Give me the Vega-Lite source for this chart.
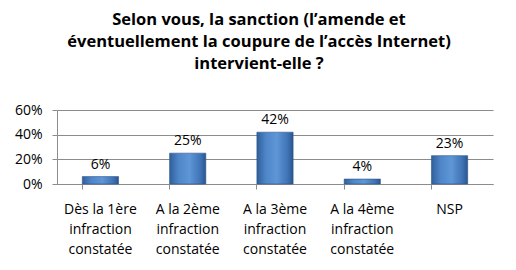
{
  "$schema": "https://vega.github.io/schema/vega-lite/v6.json",
  "autosize": {"type": "none"},
  "padding": {"left": 57, "top": 110, "right": 23, "bottom": 86},
  "width": 436,
  "height": 74,
  "background": "white",
  "title": {
    "text": ["Selon vous, la sanction (l’amende et", "éventuellement la coupure de l’accès Internet)", "intervient-elle ?"],
    "font": "Open Sans",
    "fontSize": 16.5,
    "fontWeight": "bold",
    "color": "#000000",
    "lineHeight": 22,
    "anchor": "middle",
    "dx": -16,
    "offset": 31
  },
  "data": {
    "values": [
      {"categorie": "Dès la 1ère infraction constatée", "part": 0.06},
      {"categorie": "A la 2ème infraction constatée", "part": 0.25},
      {"categorie": "A la 3ème infraction constatée", "part": 0.42},
      {"categorie": "A la 4ème infraction constatée", "part": 0.04},
      {"categorie": "NSP", "part": 0.23}
    ]
  },
  "encoding": {
    "x": {
      "field": "categorie",
      "type": "nominal",
      "sort": null,
      "scale": {"paddingInner": 0.585, "paddingOuter": 0.29},
      "axis": {
        "title": null,
        "labelAngle": 0,
        "labelExpr": "split(replace(datum.label, ' infraction ', '|infraction|'), '|')",
        "labelFont": "Open Sans",
        "labelFontSize": 14,
        "labelColor": "#000000",
        "labelLineHeight": 20,
        "labelPadding": 13,
        "labelBaseline": "top",
        "bandPosition": 0,
        "tickColor": "#8c8c8c",
        "tickSize": 5,
        "domainColor": "#8c8c8c",
        "grid": false
      }
    },
    "y": {
      "field": "part",
      "type": "quantitative",
      "scale": {"domain": [0, 0.6]},
      "axis": {
        "title": null,
        "format": ".0%",
        "values": [0, 0.2, 0.4, 0.6],
        "labelFont": "Open Sans",
        "labelFontSize": 14,
        "labelColor": "#000000",
        "labelPadding": 10,
        "tickColor": "#8c8c8c",
        "tickSize": 5,
        "domainColor": "#8c8c8c",
        "gridColor": "#8c8c8c",
        "grid": true
      }
    }
  },
  "layer": [
    {
      "mark": {
        "type": "bar",
        "stroke": "#2c5688",
        "strokeWidth": 0.6,
        "color": {
          "gradient": "linear",
          "x1": 0, "y1": 0, "x2": 1, "y2": 0,
          "stops": [
            {"offset": 0, "color": "#2f5f9c"},
            {"offset": 0.25, "color": "#4f86c8"},
            {"offset": 0.55, "color": "#5e96d6"},
            {"offset": 0.85, "color": "#3f73b5"},
            {"offset": 1, "color": "#2a5590"}
          ]
        }
      }
    },
    {
      "mark": {
        "type": "text",
        "baseline": "bottom",
        "dy": -5,
        "font": "Open Sans",
        "fontSize": 14,
        "color": "#000000"
      },
      "encoding": {
        "text": {"field": "part", "type": "quantitative", "format": ".0%"}
      }
    }
  ],
  "config": {
    "view": {"stroke": null}
  }
}
